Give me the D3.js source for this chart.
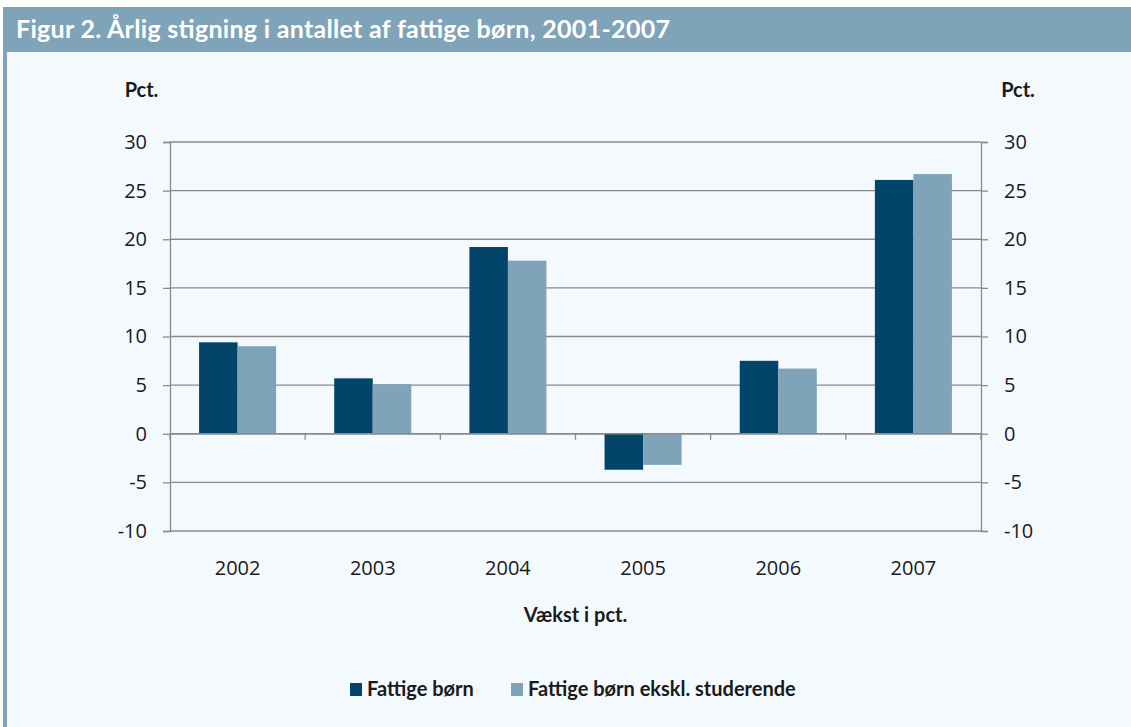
<!DOCTYPE html>
<html>
<head>
  <meta charset="utf-8" />
  <title>Figur 2</title>
  <script src="https://d3js.org/d3.v7.min.js"></script>
  <style>
    body { margin: 0; background: #ffffff; }
    .tick text { font-family: "Open Sans", "Noto Sans", sans-serif; font-size: 20px; fill: #1a1a1a; }
    .bold { font-family: Lato, "Open Sans", sans-serif; font-weight: bold; fill: #1a1a1a; }
  </style>
</head>
<body>
  <div id="chart"></div>
  <script>
    // data
    var years = ["2002", "2003", "2004", "2005", "2006", "2007"];
    var fattige = [9.4, 5.7, 19.2, -3.7, 7.5, 26.1];
    var eksklStud = [9.0, 5.1, 17.8, -3.2, 6.7, 26.7];
    var seriesNames = ["Fattige børn", "Fattige børn ekskl. studerende"];
    var yTicks = [-10, -5, 0, 5, 10, 15, 20, 25, 30];

    var colors = ["#02446a", "#7fa3b8"];
    var W = 1131, H = 727;

    var svg = d3.select("#chart").append("svg")
      .attr("width", W)
      .attr("height", H);

    // panel background, header band and left border
    svg.append("rect").attr("x", 3).attr("y", 7).attr("width", W - 3).attr("height", H - 7).attr("fill", "#f4f9fd");
    svg.append("rect").attr("x", 3).attr("y", 7).attr("width", W - 3).attr("height", 45).attr("fill", "#7fa3b8");
    svg.append("rect").attr("x", 3).attr("y", 52).attr("width", 4).attr("height", H - 52).attr("fill", "#7fa3b8");

    svg.append("text")
      .attr("class", "bold")
      .attr("x", 16).attr("y", 38)
      .attr("textLength", 654)
      .style("font-size", "25px")
      .style("fill", "#ffffff")
      .text("Figur 2. Årlig stigning i antallet af fattige børn, 2001-2007");

    var plotL = 170, plotR = 981, plotT = 142, plotB = 531;

    var x = d3.scaleBand().domain(years).range([plotL, plotR]).paddingInner(0.43).paddingOuter(0.215);
    var xAll = d3.scaleBand().domain(years).range([plotL, plotR]);
    var xSub = d3.scaleBand().domain([0, 1]).range([0, x.bandwidth()]);
    var y = d3.scaleLinear().domain([-10, 30]).range([plotB, plotT]);

    // gridlines
    svg.append("g")
      .selectAll("line")
      .data(yTicks)
      .enter()
      .append("line")
      .attr("x1", plotL).attr("x2", plotR)
      .attr("y1", function (d) { return y(d); })
      .attr("y2", function (d) { return y(d); })
      .attr("stroke", "#8a8a8a")
      .attr("stroke-width", 1.3);

    // y axes both sides, plain hyphen for negatives
    var fmt = function (d) { return String(d); };
    var yLeft = d3.axisLeft(y).tickValues(yTicks).tickFormat(fmt).tickSize(7).tickPadding(16);
    var yRight = d3.axisRight(y).tickValues(yTicks).tickFormat(fmt).tickSize(7).tickPadding(16);
    [svg.append("g").attr("transform", "translate(" + plotL + ",0)").call(yLeft),
     svg.append("g").attr("transform", "translate(" + plotR + ",0)").call(yRight)].forEach(function (g) {
      g.select(".domain").attr("stroke", "#8a8a8a").attr("stroke-width", 1.3);
      g.selectAll(".tick line").attr("stroke", "#8a8a8a").attr("stroke-width", 1.3);
    });

    // bars
    var groups = svg.append("g")
      .selectAll("g")
      .data(years)
      .enter()
      .append("g")
      .attr("transform", function (d) { return "translate(" + x(d) + ",0)"; });

    groups.selectAll("rect")
      .data(function (d, i) { return [fattige[i], eksklStud[i]]; })
      .enter()
      .append("rect")
      .attr("x", function (d, j) { return xSub(j); })
      .attr("width", xSub.bandwidth())
      .attr("y", function (d) { return y(Math.max(0, d)); })
      .attr("height", function (d) { return Math.abs(y(d) - y(0)); })
      .attr("fill", function (d, j) { return colors[j]; });

    // zero line with category ticks
    var zg = svg.append("g").attr("transform", "translate(0," + y(0) + ")");
    zg.append("line").attr("x1", plotL).attr("x2", plotR)
      .attr("stroke", "#8a8a8a").attr("stroke-width", 1.5);
    zg.selectAll(".cat")
      .data(d3.range(years.length + 1))
      .enter()
      .append("line")
      .attr("x1", function (k) { return plotL + k * xAll.step(); })
      .attr("x2", function (k) { return plotL + k * xAll.step(); })
      .attr("y1", 0).attr("y2", 6)
      .attr("stroke", "#8a8a8a").attr("stroke-width", 1.3);

    // year labels
    var xg = svg.append("g").attr("transform", "translate(0," + plotB + ")")
      .call(d3.axisBottom(xAll).tickSize(0).tickPadding(30));
    xg.select(".domain").remove();

    // axis titles
    svg.append("text").attr("class", "bold").attr("x", 141.5).attr("y", 97)
      .attr("text-anchor", "middle").style("font-size", "20px").text("Pct.");
    svg.append("text").attr("class", "bold").attr("x", 1018).attr("y", 97)
      .attr("text-anchor", "middle").style("font-size", "20px").text("Pct.");
    svg.append("text").attr("class", "bold").attr("x", (plotL + plotR) / 2).attr("y", 622)
      .attr("text-anchor", "middle").style("font-size", "20px").text("Vækst i pct.");

    // legend
    var legendX = [350, 511];
    var legend = svg.append("g")
      .selectAll("g")
      .data(seriesNames)
      .enter()
      .append("g")
      .attr("transform", function (d, i) { return "translate(" + legendX[i] + ",683)"; });
    legend.append("rect").attr("width", 12).attr("height", 13)
      .attr("fill", function (d, i) { return colors[i]; });
    legend.append("text").attr("class", "bold").attr("x", 17).attr("y", 13)
      .style("font-size", "20px").text(function (d) { return d; });
  </script>
</body>
</html>
